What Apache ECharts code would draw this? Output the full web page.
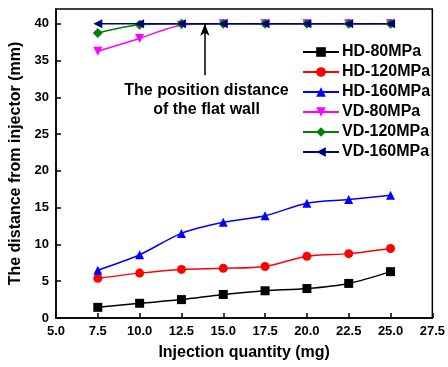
<!DOCTYPE html>
<html>
<head>
<meta charset="utf-8">
<script src="https://cdn.jsdelivr.net/npm/echarts@6/dist/echarts.min.js"></script>
<style>
  html, body { margin: 0; padding: 0; background: #fff; }
  #main { width: 448px; height: 367px; }
</style>
</head>
<body>
<div id="main"></div>
<script>
  // injection quantity (mg)
  var quantity = [7.5, 10.0, 12.5, 15.0, 17.5, 20.0, 22.5, 25.0];

  // distance from injector (mm)
  var hd80 = [1.45, 2.0, 2.5, 3.2, 3.7, 4.0, 4.7, 6.3];
  var hd120 = [5.4, 6.1, 6.6, 6.75, 7.0, 8.4, 8.75, 9.45];
  var hd160 = [6.5, 8.6, 11.5, 13.0, 13.9, 15.6, 16.1, 16.7];
  var vd80 = [36.25, 38.0, 39.8, 40, 40, 40, 40, 40];
  var vd120 = [38.75, 39.85, 40, 40, 40, 40, 40, 40];
  var vd160 = [40, 40, 40, 40, 40, 40, 40, 40];

  var xTicks = [5.0, 7.5, 10.0, 12.5, 15.0, 17.5, 20.0, 22.5, 25.0, 27.5];
  var yTicks = [0, 5, 10, 15, 20, 25, 30, 35, 40];

  var wallX = 13.9;

  var font = 'Liberation Sans, Arial, sans-serif';

  function pairs(vals) {
    return vals.map(function (v, i) { return [quantity[i], v]; });
  }

  function makeSeries(name, vals, color, symbol, rot) {
    return {
      name: name,
      type: 'line',
      data: pairs(vals),
      smooth: 0.3,
      symbol: symbol,
      symbolSize: symbol === 'diamond' ? 10 : 9,
      symbolRotate: rot || 0,
      showAllSymbol: true,
      lineStyle: { color: color, width: 1.5 },
      itemStyle: { color: color },
      emphasis: { disabled: true }
    };
  }

  var series = [
    makeSeries('HD-80MPa', hd80, '#000000', 'rect'),
    makeSeries('HD-120MPa', hd120, '#ff0000', 'circle'),
    makeSeries('HD-160MPa', hd160, '#0000ff', 'triangle'),
    makeSeries('VD-80MPa', vd80, '#ff00ff', 'triangle', 180),
    makeSeries('VD-120MPa', vd120, '#008000', 'diamond'),
    makeSeries('VD-160MPa', vd160, '#000080', 'triangle', 90)
  ];

  // arrow + note for the flat wall
  series[5].markLine = {
    silent: true,
    symbol: ['none', 'arrow'],
    symbolSize: [7, 12],
    lineStyle: { color: '#000', width: 1.5, type: 'solid' },
    label: { show: false },
    data: [[{ coord: [wallX, 33] }, { coord: [wallX, 40] }]]
  };
  series[5].markPoint = {
    silent: true,
    symbolSize: 0,
    label: {
      show: true,
      position: 'inside',
      formatter: 'The position distance\nof the flat wall',
      color: '#000',
      fontFamily: font,
      fontWeight: 'bold',
      fontSize: 16,
      lineHeight: 19,
      align: 'center'
    },
    data: [{ coord: [14.0, 29.6] }]
  };

  var chart = echarts.init(document.getElementById('main'));
  chart.setOption({
    animation: false,
    grid: {
      left: 50, right: 14, top: 9, bottom: 49,
      show: true, borderColor: '#000', borderWidth: 1.5,
      containLabel: false
    },
    legend: {
      orient: 'vertical',
      left: 297,
      top: 39,
      itemWidth: 36,
      itemHeight: 12,
      itemGap: 4,
      textStyle: { color: '#000', fontFamily: font, fontWeight: 'bold', fontSize: 16, padding: [0, 0, 0, -2] },
      data: series.map(function (s) { return s.name; })
    },
    xAxis: {
      type: 'value',
      min: 5,
      max: 27.5,
      interval: 2.5,
      name: 'Injection quantity (mg)',
      nameLocation: 'middle',
      nameGap: 27,
      nameMoveOverlap: false,
      nameTextStyle: { color: '#000', fontFamily: font, fontWeight: 'bold', fontSize: 16 },
      axisLine: { lineStyle: { color: '#000', width: 1.5 } },
      axisTick: { inside: true, length: 5, lineStyle: { color: '#000', width: 1.5 } },
      axisLabel: {
        color: '#000', fontFamily: font, fontWeight: 'bold', fontSize: 13, margin: 7,
        customValues: xTicks,
        formatter: function (v) { return v.toFixed(1); }
      },
      splitLine: { show: false }
    },
    yAxis: {
      type: 'value',
      min: 0,
      max: 42,
      interval: 5,
      name: 'The distance from injector (mm)',
      nameLocation: 'middle',
      nameGap: 32,
      nameMoveOverlap: false,
      nameTextStyle: { color: '#000', fontFamily: font, fontWeight: 'bold', fontSize: 16 },
      axisLine: { lineStyle: { color: '#000', width: 1.5 } },
      axisTick: { inside: true, length: 5, customValues: yTicks, lineStyle: { color: '#000', width: 1.5 } },
      axisLabel: {
        color: '#000', fontFamily: font, fontWeight: 'bold', fontSize: 13, margin: 7,
        customValues: yTicks
      },
      splitLine: { show: false }
    },
    series: series
  });
</script>
</body>
</html>
